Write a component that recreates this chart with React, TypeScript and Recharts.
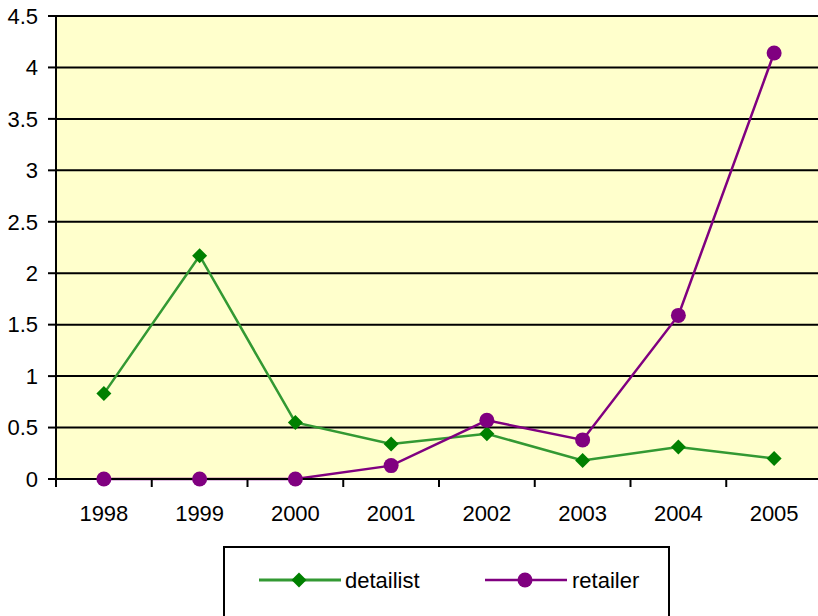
import { LineChart, Line, XAxis, YAxis, CartesianGrid } from "recharts";

const years = ["1998", "1999", "2000", "2001", "2002", "2003", "2004", "2005"];
const detailist = [0.83, 2.17, 0.55, 0.34, 0.44, 0.18, 0.31, 0.2];
const retailer = [0, 0, 0, 0.13, 0.57, 0.38, 1.59, 4.14];
const yTicks = [0, 0.5, 1, 1.5, 2, 2.5, 3, 3.5, 4, 4.5];

const rows = years.map((year, i) => ({
  year,
  detailist: detailist[i],
  retailer: retailer[i],
}));

const CHART_W = 830;
const CHART_H = 616;
const MARGIN = { top: 16, right: 8, left: 0, bottom: 97 };
const Y_AXIS_W = 56;
const BAND = (CHART_W - MARGIN.left - MARGIN.right - Y_AXIS_W) / years.length;
const FONT = "'Liberation Sans', Arial, sans-serif";
const FONT_SIZE = 22;

const GREEN = "#008000";
const GREEN_LINE = "#339933";
const PURPLE = "#800080";

// x ticks sit on the category boundaries, labels in the middle of each band
const YearTick = (props: any) => {
  const { x, y, payload, index } = props;
  return (
    <g>
      <line x1={x - BAND / 2} x2={x - BAND / 2} y1={y} y2={y + 8} stroke="#000" strokeWidth={2} />
      {index === years.length - 1 && (
        <line x1={x + BAND / 2} x2={x + BAND / 2} y1={y} y2={y + 8} stroke="#000" strokeWidth={2} />
      )}
      <text x={x} y={y + 42} textAnchor="middle" fontSize={FONT_SIZE} fontFamily={FONT} fill="#000">
        {payload.value}
      </text>
    </g>
  );
};

const Diamond = (props: any) => {
  const { cx, cy } = props;
  if (cx == null || cy == null) return null;
  const s = 7.5;
  return (
    <path
      d={`M${cx} ${cy - s} L${cx + s} ${cy} L${cx} ${cy + s} L${cx - s} ${cy} Z`}
      fill={GREEN}
    />
  );
};

function LegendBox() {
  return (
    <svg
      width={460}
      height={80}
      style={{ position: "absolute", left: 220, top: 540 }}
    >
      <rect x={4} y={7} width={445} height={90} fill="#fff" stroke="#000" strokeWidth={2} />
      <line x1={39} x2={121} y1={40} y2={40} stroke={GREEN_LINE} strokeWidth={3} />
      <path d="M79 32.5 L86.5 40 L79 47.5 L71.5 40 Z" fill={GREEN} />
      <text x={125} y={48} fontSize={FONT_SIZE} fontFamily={FONT} fill="#000">
        detailist
      </text>
      <line x1={265} x2={347} y1={40} y2={40} stroke={PURPLE} strokeWidth={2.5} />
      <circle cx={305} cy={40} r={7.5} fill={PURPLE} />
      <text x={352} y={48} fontSize={FONT_SIZE} fontFamily={FONT} fill="#000">
        retailer
      </text>
    </svg>
  );
}

export default function App() {
  return (
    <div
      style={{
        position: "absolute",
        left: 0,
        top: 0,
        width: 818,
        height: 616,
        overflow: "hidden",
        background: "#fff",
      }}
    >
      <LineChart width={CHART_W} height={CHART_H} data={rows} margin={MARGIN}>
        <CartesianGrid vertical={false} stroke="#000" strokeWidth={2} fill="#FFFFCC" fillOpacity={1} />
        <XAxis
          dataKey="year"
          scale="band"
          height={40}
          axisLine={{ stroke: "#000", strokeWidth: 2 }}
          tickLine={false}
          tickSize={0}
          tickMargin={0}
          tick={<YearTick />}
          interval={0}
        />
        <YAxis
          width={Y_AXIS_W}
          domain={[0, 4.5]}
          ticks={yTicks}
          interval={0}
          axisLine={{ stroke: "#000", strokeWidth: 2 }}
          tickLine={{ stroke: "#000", strokeWidth: 2 }}
          tickSize={8}
          tickMargin={10}
          tick={{ fontSize: FONT_SIZE, fontFamily: FONT, fill: "#000" }}
        />
        <Line
          type="linear"
          dataKey="detailist"
          stroke={GREEN_LINE}
          strokeWidth={2.5}
          dot={<Diamond />}
          activeDot={false}
          isAnimationActive={false}
        />
        <Line
          type="linear"
          dataKey="retailer"
          stroke={PURPLE}
          strokeWidth={2.5}
          dot={{ r: 7.5, fill: PURPLE, stroke: PURPLE, strokeWidth: 0 }}
          activeDot={false}
          isAnimationActive={false}
        />
      </LineChart>
      <LegendBox />
    </div>
  );
}
